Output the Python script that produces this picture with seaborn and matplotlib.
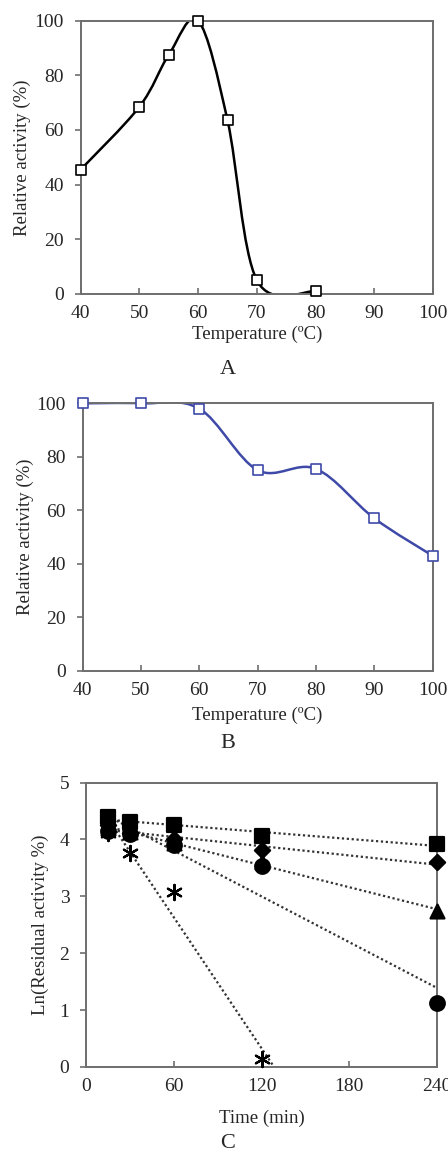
import numpy as np
import matplotlib
matplotlib.use("Agg")
import matplotlib.pyplot as plt
from matplotlib.path import Path
from matplotlib.patches import PathPatch
import seaborn as sns

# panel A: temperature optimum
temp_a = [40, 50, 55, 60, 65, 70, 80]
activity_a = [45.5, 68.5, 87.5, 100, 63.5, 5, 1]

# panel B: thermal stability
temp_b = [40, 50, 60, 70, 80, 90, 100]
activity_b = [100, 100, 98, 75, 75.5, 57, 43]

# panel C: ln(residual activity) over time
time_c = [15, 30, 60, 120, 240]
ln_square = [4.39, 4.31, 4.26, 4.06, 3.92]
ln_diamond = [4.25, 4.12, 4.0, 3.81, 3.60]
ln_triangle = [4.2, 4.13, 3.93, 3.6, 2.75]
ln_circle = [4.15, 4.1, 3.9, 3.53, 1.13]
time_star = [15, 30, 60, 120]
ln_star = [4.12, 3.77, 3.08, 0.14]

sns.set_theme(style="white")
plt.rcParams["font.family"] = ["Liberation Serif", "DejaVu Serif"]

FRAME = "#6e6e6e"


def smooth_line(ax, xs, ys, color, lw=1.8):
    # Excel-like smoothed line: cubic bezier through the points
    pts = np.column_stack([xs, ys]).astype(float)
    ext = np.vstack([pts[0], pts, pts[-1]])
    verts = [pts[0]]
    codes = [Path.MOVETO]
    for i in range(1, len(ext) - 2):
        p0, p1, p2, p3 = ext[i - 1], ext[i], ext[i + 1], ext[i + 2]
        verts += [p1 + (p2 - p0) / 6, p2 - (p3 - p1) / 6, p2]
        codes += [Path.CURVE4] * 3
    patch = PathPatch(Path(verts, codes), facecolor="none", edgecolor=color,
                      lw=lw, zorder=2)
    ax.add_patch(patch)


def style_axes(ax, xticks, yticks, xlabel, ylabel, ylab_x, xlab_y):
    ax.set_xticks(xticks)
    ax.set_yticks(yticks)
    for side in ax.spines.values():
        side.set_color(FRAME)
        side.set_linewidth(1.4)
        side.set_visible(True)
    ax.tick_params(axis="x", direction="in", length=4, width=1.2, color=FRAME,
                   pad=8, labelsize=14, bottom=True)
    ax.tick_params(axis="y", direction="out", length=4, width=1.2, color=FRAME,
                   pad=8, labelsize=14, left=True)
    ax.set_xlabel(xlabel, fontsize=13.5)
    ax.set_ylabel(ylabel, fontsize=13.5)
    ax.yaxis.set_label_coords(ylab_x, 0.5)
    ax.xaxis.set_label_coords(0.5, xlab_y)
    ax.grid(False)


fig = plt.figure(figsize=(4.48, 11.61), dpi=100)

# ---- A
ax_a = fig.add_axes([0.180, 0.7468, 0.787, 0.2354])
smooth_line(ax_a, temp_a, activity_a, "black")
sns.scatterplot(x=temp_a, y=activity_a, ax=ax_a, marker="s", s=62,
                facecolor="white", edgecolor="black", linewidth=1.2,
                zorder=3, clip_on=False)
ax_a.set_xlim(40, 100)
ax_a.set_ylim(0, 100)
style_axes(ax_a, range(40, 101, 10), range(0, 101, 20),
           "Temperature (ºC)", "Relative activity (%)", -0.14, -0.115)

# ---- B
blue = "#3f4aa8"
ax_b = fig.add_axes([0.1846, 0.4223, 0.781, 0.2303])
smooth_line(ax_b, temp_b, activity_b, blue)
sns.scatterplot(x=temp_b, y=activity_b, ax=ax_b, marker="s", s=62,
                facecolor="white", edgecolor=blue, linewidth=1.2,
                zorder=3, clip_on=False)
ax_b.set_xlim(40, 100)
ax_b.set_ylim(0, 100)
style_axes(ax_b, range(40, 101, 10), range(0, 101, 20),
           "Temperature (ºC)", "Relative activity (%)", -0.14, -0.135)

# ---- C
ax_c = fig.add_axes([0.192, 0.081, 0.7835, 0.2449])
series_c = [
    (time_c, ln_square, "s", 90),
    (time_c, ln_diamond, "D", 60),
    (time_c, ln_triangle, "^", 100),
    (time_c, ln_circle, "o", 110),
    (time_star, ln_star, (6, 2, 0), 120),
]
for tx, ly, mk, sz in series_c:
    slope, icpt = np.polyfit(tx, ly, 1)
    fit_x = np.array([tx[0], 240])
    sns.lineplot(x=fit_x, y=slope * fit_x + icpt, ax=ax_c, color="#333333",
                 lw=1.6, linestyle=(0, (1, 1.2)), zorder=2)
    sns.scatterplot(x=tx, y=ly, ax=ax_c, marker=mk, s=sz, color="black",
                    edgecolor="black", linewidth=1.6, zorder=3, clip_on=False)
ax_c.set_xlim(0, 240)
ax_c.set_ylim(0, 5)
style_axes(ax_c, range(0, 241, 60), range(0, 6),
           "Time (min)", "Ln(Residual activity %)", -0.105, -0.15)

for lab, yc in [("A", 369), ("B", 743), ("C", 1143)]:
    fig.text(228 / 448, 1 - yc / 1161, lab, fontsize=16, ha="center",
             va="center")

fig.savefig("out.png", dpi=100)
plt.close(fig)
